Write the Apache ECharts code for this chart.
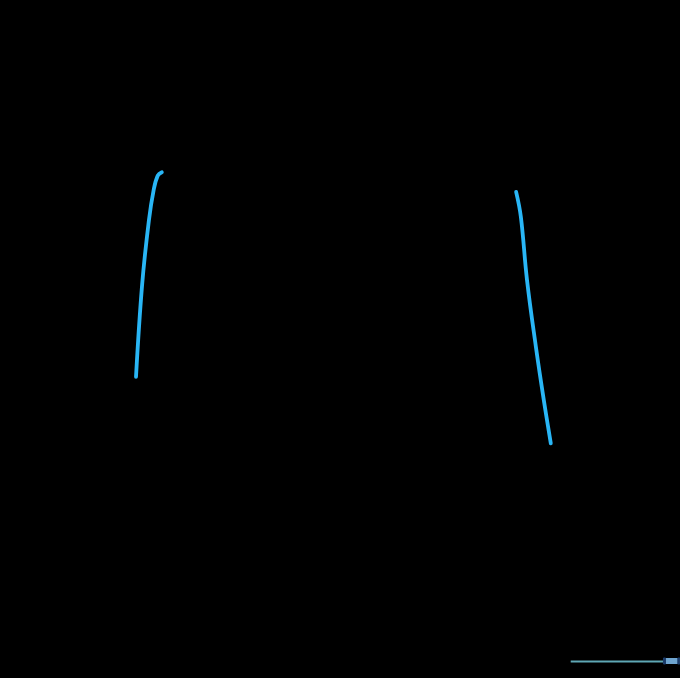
<!DOCTYPE html>
<html>
<head>
<meta charset="utf-8">
<script src="https://cdn.jsdelivr.net/npm/echarts@6/dist/echarts.min.js"></script>
<style>
html,body{margin:0;padding:0;background:#000;}
#main{width:680px;height:678px;}
</style>
</head>
<body>
<div id="main"></div>
<script>
// Values (x and y in 0-100 axis units)
var leftX  = [20.0, 20.9, 21.9, 22.6, 23.2, 23.8];
var leftY  = [44.4, 58.0, 67.5, 72.0, 74.1, 74.6];
var rightX = [75.9, 76.6, 77.5, 78.8, 80.0, 81.0];
var rightY = [71.7, 68.0, 58.7, 48.9, 40.8, 34.6];
var zoomStart = 85;
var zoomEnd = 100;

function pairs(xs, ys) {
  return xs.map(function (x, i) { return [x, ys[i]]; });
}

var chart = echarts.init(document.getElementById('main'));
var lineColor = '#29b6f6';
var trackColor = '#5fa8b5';
chart.setOption({
  backgroundColor: '#000',
  animation: false,
  grid: { left: 0, right: 0, top: 0, bottom: 0 },
  xAxis: [
    { type: 'value', min: 0, max: 100, show: false },
    { type: 'value', min: 0, max: 100, show: false, gridIndex: 0 }
  ],
  yAxis: { type: 'value', min: 0, max: 100, show: false },
  dataZoom: [{
    type: 'slider',
    xAxisIndex: 1,
    filterMode: 'none',
    start: zoomStart,
    end: zoomEnd,
    left: 570,
    right: 1,
    bottom: 16,
    height: 2,
    showDetail: false,
    showDataShadow: false,
    brushSelect: false,
    borderColor: 'transparent',
    backgroundColor: trackColor,
    fillerColor: trackColor,
    handleSize: 0,
    handleStyle: { color: 'transparent', borderColor: 'transparent' },
    moveHandleSize: 0
  }, {
    type: 'slider',
    xAxisIndex: 1,
    filterMode: 'none',
    start: zoomStart,
    end: zoomEnd,
    left: 570,
    right: 1,
    bottom: 14,
    height: 6,
    showDetail: false,
    showDataShadow: false,
    brushSelect: false,
    borderColor: 'transparent',
    backgroundColor: 'transparent',
    fillerColor: '#6fa5d0',
    handleIcon: 'path://M0,0H2V6H0Z',
    handleSize: '100%',
    handleStyle: { color: '#1c3d6b', borderColor: '#1c3d6b' },
    moveHandleSize: 0
  }],
  series: [
    {
      type: 'line', smooth: 0.4, symbol: 'none', xAxisIndex: 0,
      data: pairs(leftX, leftY),
      lineStyle: { color: lineColor, width: 3.8, cap: 'round' }
    },
    {
      type: 'line', smooth: 0.4, symbol: 'none', xAxisIndex: 0,
      data: pairs(rightX, rightY),
      lineStyle: { color: lineColor, width: 3.8, cap: 'round' }
    }
  ]
});
</script>
</body>
</html>
